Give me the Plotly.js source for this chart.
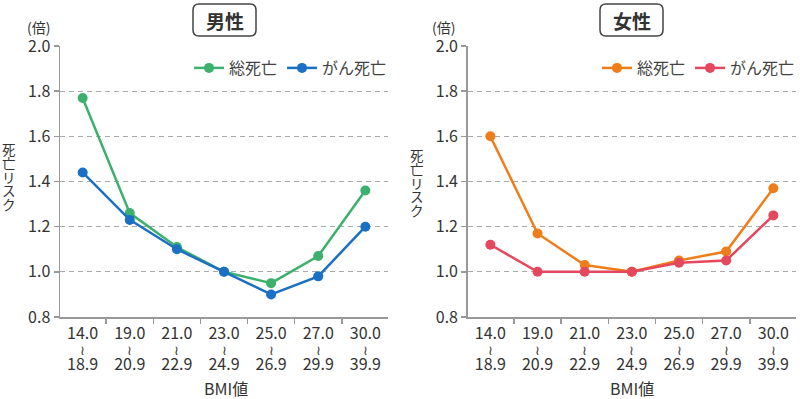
<!DOCTYPE html>
<html>
<head>
<meta charset="utf-8">
<script src="https://cdn.plot.ly/plotly-3.0.1.min.js"></script>
<style>html,body{margin:0;padding:0;background:#fff;}#chart{width:800px;height:399px;}</style>
</head>
<body>
<div id="chart"></div>
<script>
// ---- data ----
const bmiLow  = ['14.0', '19.0', '21.0', '23.0', '25.0', '27.0', '30.0'];
const bmiHigh = ['18.9', '20.9', '22.9', '24.9', '26.9', '29.9', '39.9'];
const categories = bmiLow.map((l, i) => l + '-' + bmiHigh[i]);
const seriesNames = ['総死亡', 'がん死亡'];
const maleTotal    = [1.77, 1.26, 1.11, 1.00, 0.95, 1.07, 1.36];
const maleCancer   = [1.44, 1.23, 1.10, 1.00, 0.90, 0.98, 1.20];
const femaleTotal  = [1.60, 1.17, 1.03, 1.00, 1.05, 1.09, 1.37];
const femaleCancer = [1.12, 1.00, 1.00, 1.00, 1.04, 1.05, 1.25];
const panelTitles = ['男性', '女性'];
const yTicks = [0.8, 1.0, 1.2, 1.4, 1.6, 1.8, 2.0];
const yTickText = ['0.8', '1.0', '1.2', '1.4', '1.6', '1.8', '2.0'];

// ---- layout helpers ----
const W = 800, H = 399;
const FONT = '"Noto Sans CJK JP", "Noto Sans", sans-serif';
const px = x => x / W;
const py = y => 1 - y / H;
const tickText = bmiLow.map((l, i) =>
  '<span style="font-size:16px">' + l + '</span><br>' +
  '<span style="font-size:13px">≀</span><br>' +
  '<span style="font-size:16px">' + bmiHigh[i] + '</span>');

function roundRect(x0, y0, x1, y1, r) {
  const P = (x, y) => px(x) + ',' + py(y);
  return 'M' + P(x0 + r, y0) + ' L' + P(x1 - r, y0) + ' Q' + P(x1, y0) + ' ' + P(x1, y0 + r) +
    ' L' + P(x1, y1 - r) + ' Q' + P(x1, y1) + ' ' + P(x1 - r, y1) +
    ' L' + P(x0 + r, y1) + ' Q' + P(x0, y1) + ' ' + P(x0, y1 - r) +
    ' L' + P(x0, y0 + r) + ' Q' + P(x0, y0) + ' ' + P(x0 + r, y0) + ' Z';
}

function trace(y, name, color, xa, ya, lg) {
  return {
    x: categories, y: y, name: name, type: 'scatter', mode: 'lines+markers',
    line: {color: color, width: 2.5}, marker: {color: color, size: 10},
    xaxis: xa, yaxis: ya, legend: lg, cliponaxis: false
  };
}

const data = [
  trace(maleTotal, seriesNames[0], '#3cb06c', 'x', 'y', 'legend'),
  trace(maleCancer, seriesNames[1], '#1b70c4', 'x', 'y', 'legend'),
  trace(femaleTotal, seriesNames[0], '#ef7d1a', 'x2', 'y2', 'legend2'),
  trace(femaleCancer, seriesNames[1], '#e5475c', 'x2', 'y2', 'legend2')
];

const yDomain = [1 - 317 / H, 1 - 46 / H];
function xAxis(domain, anchor) {
  return {
    domain: domain, anchor: anchor, type: 'category',
    categoryorder: 'array', categoryarray: categories,
    tickmode: 'array', tickvals: categories, ticktext: tickText,
    tickson: 'boundaries', ticks: 'outside', ticklen: 5, tickcolor: '#999', tickwidth: 1.5,
    ticklabelstandoff: 7,
    showline: true, linecolor: '#999', linewidth: 1.5, showgrid: false, zeroline: false,
    tickfont: {family: FONT, size: 11.6, color: '#333'}, fixedrange: true
  };
}
function yAxis(anchor) {
  return {
    domain: yDomain, anchor: anchor, range: [0.8, 2.0],
    tickmode: 'array', tickvals: yTicks, ticktext: yTickText,
    ticks: 'outside', ticklen: 5, tickcolor: '#999', tickwidth: 1.5,
    showline: true, linecolor: '#999', linewidth: 1.5,
    showgrid: true, gridcolor: '#aaa', gridwidth: 1.3, griddash: '5px,4px', zeroline: false,
    tickfont: {family: FONT, size: 16, color: '#333'}, fixedrange: true
  };
}

function legendAt(xRight) {
  return {
    orientation: 'h', x: px(xRight), xanchor: 'right', y: py(68), yanchor: 'middle',
    font: {family: FONT, size: 16, color: '#444'}, bgcolor: 'rgba(0,0,0,0)',
    itemwidth: 30, tracegroupgap: 0
  };
}

function ann(text, x, y, size, extra) {
  return Object.assign({
    text: text, x: px(x), y: py(y), xref: 'paper', yref: 'paper',
    showarrow: false, xanchor: 'center', yanchor: 'middle',
    font: {family: FONT, size: size, color: '#333'}
  }, extra || {});
}
const vTitle = '死亡リスク'.split('').map(c => '<span style="font-size:13.5px">' + c + '</span>').join('<br>');

const layout = {
  width: W, height: H,
  margin: {l: 0, r: 0, t: 0, b: 0},
  paper_bgcolor: '#fff', plot_bgcolor: '#fff',
  showlegend: true,
  xaxis: xAxis([px(60), px(388)], 'y'),
  yaxis: yAxis('x'),
  xaxis2: xAxis([px(467.7), px(796)], 'y2'),
  yaxis2: yAxis('x2'),
  legend: legendAt(392),
  legend2: legendAt(800),
  annotations: [
    ann('<b>' + panelTitles[0] + '</b>', 224.5, 20, 19),
    ann('<b>' + panelTitles[1] + '</b>', 631.5, 20, 19),
    ann('(倍)', 38, 27, 14),
    ann('(倍)', 443, 27, 14),
    ann(vTitle, 9, 177, 10.6),
    ann(vTitle, 417, 182, 10.6),
    ann('BMI値', 226, 388, 16),
    ann('BMI値', 632, 388, 16)
  ],
  shapes: [
    {type: 'path', xref: 'paper', yref: 'paper', path: roundRect(193, 4, 256, 36, 6), line: {color: '#444', width: 1.5}},
    {type: 'path', xref: 'paper', yref: 'paper', path: roundRect(600, 4, 663, 36, 6), line: {color: '#444', width: 1.5}}
  ]
};

Plotly.newPlot('chart', data, layout, {displayModeBar: false, staticPlot: true});
</script>
</body>
</html>
